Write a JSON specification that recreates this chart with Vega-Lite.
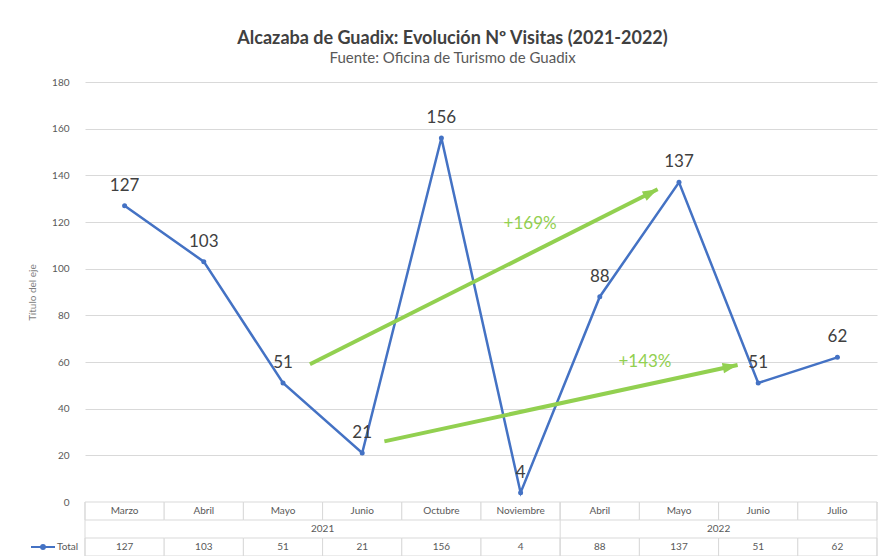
{
  "$schema": "https://vega.github.io/schema/vega-lite/v6.json",
  "padding": {"left": 27, "top": 30, "right": 2, "bottom": 0},
  "background": "white",
  "bounds": "flush",
  "spacing": 0,
  "title": {
    "text": "Alcazaba de Guadix: Evolución Nº Visitas (2021-2022)",
    "subtitle": "Fuente: Oficina de Turismo de Guadix",
    "anchor": "middle",
    "font": "Lato",
    "fontSize": 18,
    "fontWeight": "bold",
    "color": "#404040",
    "subtitleFont": "Lato",
    "subtitleFontSize": 15,
    "subtitleColor": "#595959",
    "subtitlePadding": 3,
    "offset": 11
  },
  "datasets": {
    "visitas": [
      {"clave": "2021-Marzo", "mes": "Marzo", "anio": "2021", "visitas": 127},
      {"clave": "2021-Abril", "mes": "Abril", "anio": "2021", "visitas": 103},
      {"clave": "2021-Mayo", "mes": "Mayo", "anio": "2021", "visitas": 51},
      {"clave": "2021-Junio", "mes": "Junio", "anio": "2021", "visitas": 21},
      {"clave": "2021-Octubre", "mes": "Octubre", "anio": "2021", "visitas": 156},
      {"clave": "2021-Noviembre", "mes": "Noviembre", "anio": "2021", "visitas": 4},
      {"clave": "2022-Abril", "mes": "Abril", "anio": "2022", "visitas": 88},
      {"clave": "2022-Mayo", "mes": "Mayo", "anio": "2022", "visitas": 137},
      {"clave": "2022-Junio", "mes": "Junio", "anio": "2022", "visitas": 51},
      {"clave": "2022-Julio", "mes": "Julio", "anio": "2022", "visitas": 62}
    ],
    "anotaciones": [
      {"etiqueta": "+169%", "desde_pos": 2.84, "desde_visitas": 59, "hasta_pos": 7.23, "hasta_visitas": 134, "etiqueta_pos": 5.62, "etiqueta_visitas": 119},
      {"etiqueta": "+143%", "desde_pos": 3.78, "desde_visitas": 26, "hasta_pos": 8.24, "hasta_visitas": 58.7, "etiqueta_pos": 7.07, "etiqueta_visitas": 60}
    ]
  },
  "vconcat": [
    {
      "width": 792,
      "height": 420,
      "layer": [
        {
          "data": {"name": "visitas"},
          "mark": {"type": "line", "strokeWidth": 2.5},
          "encoding": {
            "x": {"field": "clave", "type": "nominal", "scale": {"type": "band", "paddingInner": 0, "paddingOuter": 0, "domain": ["2021-Marzo","2021-Abril","2021-Mayo","2021-Junio","2021-Octubre","2021-Noviembre","2022-Abril","2022-Mayo","2022-Junio","2022-Julio"]}, "axis": null},
            "y": {"field": "visitas", "type": "quantitative", "scale": {"domain": [0, 180], "nice": false},
              "axis": {"title": "Título del eje", "titleFont": "Lato", "titleFontSize": 10, "titleFontWeight": "normal", "titleColor": "#7f7f7f", "titlePadding": 14,
                "values": [0,20,40,60,80,100,120,140,160,180], "labelFont": "Lato", "labelFontSize": 10, "labelColor": "#595959", "labelPadding": 16,
                "ticks": false, "tickSize": 0, "domain": false, "grid": true, "gridColor": "#d9d9d9", "gridWidth": 1}},
            "color": {"datum": "Total", "type": "nominal", "scale": {"range": ["#4472C4"]},
              "legend": {"orient": "none", "legendX": -55, "legendY": 452, "title": null, "symbolType": "M-1,0H1M-0.16,0A0.16,0.16,0,1,0,0.16,0A0.16,0.16,0,1,0,-0.16,0Z", "symbolSize": 576, "symbolStrokeWidth": 2, "symbolFillColor": "#4472C4", "labelFont": "Lato", "labelFontSize": 10, "labelColor": "#595959", "labelOffset": 1}}
          }
        },
        {
          "data": {"name": "visitas"},
          "mark": {"type": "point", "filled": true, "size": 25, "color": "#4472C4", "opacity": 1},
          "encoding": {
            "x": {"field": "clave", "type": "nominal", "scale": {"type": "band", "paddingInner": 0, "paddingOuter": 0, "domain": ["2021-Marzo","2021-Abril","2021-Mayo","2021-Junio","2021-Octubre","2021-Noviembre","2022-Abril","2022-Mayo","2022-Junio","2022-Julio"]}, "axis": null},
            "y": {"field": "visitas", "type": "quantitative", "scale": {"domain": [0, 180], "nice": false}}
          }
        },
        {
          "data": {"name": "visitas"},
          "mark": {"type": "text", "dy": -20, "font": "Lato", "fontSize": 17, "color": "#404040"},
          "encoding": {
            "x": {"field": "clave", "type": "nominal", "scale": {"type": "band", "paddingInner": 0, "paddingOuter": 0, "domain": ["2021-Marzo","2021-Abril","2021-Mayo","2021-Junio","2021-Octubre","2021-Noviembre","2022-Abril","2022-Mayo","2022-Junio","2022-Julio"]}, "axis": null},
            "y": {"field": "visitas", "type": "quantitative", "scale": {"domain": [0, 180], "nice": false}},
            "text": {"field": "visitas", "type": "quantitative"}
          }
        },
        {
          "data": {"name": "anotaciones"},
          "mark": {"type": "rule", "color": "#92D050", "strokeWidth": 4},
          "encoding": {
            "x": {"field": "desde_pos", "type": "quantitative", "scale": {"domain": [0, 10], "nice": false, "zero": false}, "axis": null},
            "x2": {"field": "hasta_pos"},
            "y": {"field": "desde_visitas", "type": "quantitative", "scale": {"domain": [0, 180], "nice": false}},
            "y2": {"field": "hasta_visitas"}
          }
        },
        {
          "data": {"name": "anotaciones"},
          "transform": [{"filter": "datum.etiqueta == '+169%'"}],
          "mark": {"type": "point", "shape": "M0,0L0.7,2L-0.7,2Z", "filled": true, "color": "#92D050", "opacity": 1, "size": 225, "angle": 63},
          "encoding": {
            "x": {"field": "hasta_pos", "type": "quantitative", "scale": {"domain": [0, 10], "nice": false, "zero": false}, "axis": null},
            "y": {"field": "hasta_visitas", "type": "quantitative", "scale": {"domain": [0, 180], "nice": false}}
          }
        },
        {
          "data": {"name": "anotaciones"},
          "transform": [{"filter": "datum.etiqueta == '+143%'"}],
          "mark": {"type": "point", "shape": "M0,0L0.7,2L-0.7,2Z", "filled": true, "color": "#92D050", "opacity": 1, "size": 225, "angle": 78},
          "encoding": {
            "x": {"field": "hasta_pos", "type": "quantitative", "scale": {"domain": [0, 10], "nice": false, "zero": false}, "axis": null},
            "y": {"field": "hasta_visitas", "type": "quantitative", "scale": {"domain": [0, 180], "nice": false}}
          }
        },
        {
          "data": {"name": "anotaciones"},
          "mark": {"type": "text", "font": "Lato", "fontSize": 17, "color": "#92D050"},
          "encoding": {
            "x": {"field": "etiqueta_pos", "type": "quantitative", "scale": {"domain": [0, 10], "nice": false, "zero": false}, "axis": null},
            "y": {"field": "etiqueta_visitas", "type": "quantitative", "scale": {"domain": [0, 180], "nice": false}},
            "text": {"field": "etiqueta", "type": "nominal"}
          }
        }
      ],
      "resolve": {"scale": {"x": "independent"}}
    },
    {
      "width": 792,
      "height": 54,
      "data": {"name": "visitas"},
      "encoding": {
        "x": {"field": "clave", "type": "nominal", "scale": {"type": "band", "paddingInner": 0, "paddingOuter": 0, "domain": ["2021-Marzo","2021-Abril","2021-Mayo","2021-Junio","2021-Octubre","2021-Noviembre","2022-Abril","2022-Mayo","2022-Junio","2022-Julio"]}, "axis": null}
      },
      "layer": [
        {
          "mark": {"type": "rect", "fill": "white", "stroke": "#d9d9d9", "strokeWidth": 1},
          "encoding": {"y": {"datum": "mes", "type": "nominal", "scale": {"type": "band", "domain": ["mes", "anio", "total"], "paddingInner": 0, "paddingOuter": 0}, "axis": null}}
        },
        {
          "mark": {"type": "rect", "fill": "white", "stroke": "#d9d9d9", "strokeWidth": 1},
          "encoding": {"y": {"datum": "total", "type": "nominal"}}
        },
        {
          "transform": [{"filter": "datum.clave == '2021-Marzo' || datum.clave == '2022-Abril'"}],
          "mark": {"type": "rule", "color": "#d9d9d9", "strokeWidth": 1},
          "encoding": {"x": {"field": "clave", "type": "nominal", "bandPosition": 0}}
        },
        {
          "transform": [{"filter": "datum.clave == '2022-Julio'"}],
          "mark": {"type": "rule", "color": "#d9d9d9", "strokeWidth": 1},
          "encoding": {"x": {"field": "clave", "type": "nominal", "bandPosition": 1}}
        },
        {
          "mark": {"type": "text", "font": "Lato", "fontSize": 10, "color": "#595959"},
          "encoding": {"y": {"datum": "mes", "type": "nominal"}, "text": {"field": "mes", "type": "nominal"}}
        },
        {
          "transform": [{"filter": "datum.mes == 'Junio'"}],
          "mark": {"type": "text", "font": "Lato", "fontSize": 10, "color": "#595959"},
          "encoding": {"x": {"field": "clave", "type": "nominal", "bandPosition": 0}, "y": {"datum": "anio", "type": "nominal"}, "text": {"field": "anio", "type": "nominal"}}
        },
        {
          "mark": {"type": "text", "font": "Lato", "fontSize": 10, "color": "#595959"},
          "encoding": {"y": {"datum": "total", "type": "nominal"}, "text": {"field": "visitas", "type": "quantitative"}}
        }
      ]
    }
  ],
  "config": {
    "view": {"stroke": null},
    "font": "Lato"
  }
}
